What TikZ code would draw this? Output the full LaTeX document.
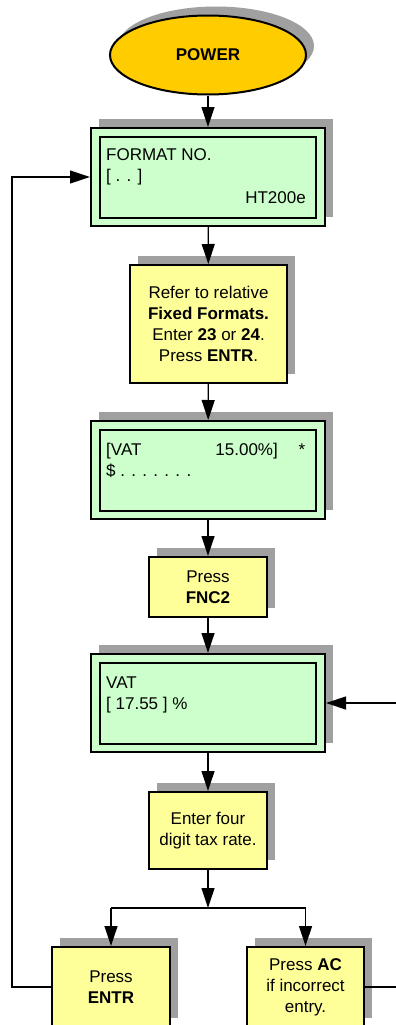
\documentclass[tikz,border=0pt]{standalone}
\usepackage{fontspec}
\setmainfont{Liberation Sans}
\usetikzlibrary{shapes.geometric,shadows,arrows.meta}
\definecolor{shadowc}{RGB}{160,160,160}
\definecolor{lcdgreen}{RGB}{204,255,204}
\definecolor{stepyellow}{RGB}{255,255,153}
\definecolor{gold}{RGB}{255,204,0}
\tikzset{
  shad/.style={drop shadow={shadow xshift=8pt, shadow yshift=9pt, fill=shadowc, opacity=1}},
  txt/.style={font=\fontsize{17}{21}\selectfont, inner sep=0pt},
  lcdbox/.style={draw=black, line width=2pt, fill=lcdgreen, shad, minimum width=234pt, minimum height=98pt, inner sep=0pt},
  lcdinner/.style={draw=black, line width=2pt},
  stepbox/.style={draw=black, line width=2pt, fill=stepyellow, shad, align=center, txt, inner sep=0pt, minimum width=118pt},
  conn/.style={line width=1.2pt},
  arr/.style={conn, -{Triangle[length=20pt,width=13pt]}},
}
\begin{document}
\begin{tikzpicture}[x=1pt,y=-1pt]
\useasboundingbox (0,0) rectangle (396,1025);
\clip (0,0) rectangle (396,1025);
% POWER
\node[ellipse, draw=black, line width=2pt, fill=gold, shad, minimum width=196pt, minimum height=79pt, inner sep=0pt, txt, font=\fontsize{17}{21}\selectfont\bfseries] (power) at (208,55) {POWER};
% LCD 1
\node[lcdbox] (lcd1) at (208,177) {};
\draw[lcdinner] ([xshift=10pt,yshift=-9.5pt]lcd1.north west) rectangle ([xshift=-10pt,yshift=9.5pt]lcd1.south east);
\node[txt, anchor=base west] (l1a) at (106,160) {FORMAT NO.};
\node[txt, anchor=base west] (l1b) at (106,181) {[ . . ]};
\node[txt, anchor=base east] (l1c) at (306,203) {HT200e};
% Step 2
\node[stepbox, minimum width=157pt, minimum height=118pt] (s2) at (208.5,324) {Refer to relative\\\textbf{Fixed Formats.}\\Enter \textbf{23} or \textbf{24}.\\Press \textbf{ENTR}.};
% LCD 2
\node[lcdbox] (lcd2) at (208,470) {};
\draw[lcdinner] ([xshift=10pt,yshift=-9.5pt]lcd2.north west) rectangle ([xshift=-10pt,yshift=9.5pt]lcd2.south east);
\node[txt, anchor=base west] (l2a) at (106,455) {[VAT};
\node[txt, anchor=base east] (l2b) at (278,455) {15.00\%]};
\node[txt, anchor=base] (l2c) at (302,455) {*};
\node[txt, anchor=base west] (l2d) at (106,476) {\$ . . . . . . .};
% Step FNC2
\node[stepbox, minimum height=60pt] (s4) at (208,587) {Press\\\textbf{FNC2}};
% LCD 3
\node[lcdbox] (lcd3) at (208,703) {};
\draw[lcdinner] ([xshift=10pt,yshift=-9.5pt]lcd3.north west) rectangle ([xshift=-10pt,yshift=9.5pt]lcd3.south east);
\node[txt, anchor=base west] (l3a) at (106,688) {VAT};
\node[txt, anchor=base west] (l3b) at (106,709) {[ 17.55 ] \%};
% Step enter four
\node[stepbox, minimum height=77pt] (s6) at (208,830.5) {Enter four\\digit tax rate.};
% Bottom boxes
\node[stepbox, minimum height=80pt] (s7) at (111,987) {Press\\\textbf{ENTR}};
\node[stepbox, minimum width=117pt, minimum height=80pt] (s8) at (305.5,987) {Press \textbf{AC}\\if incorrect\\entry.};
% connectors
\coordinate (j) at (208,908);
\coordinate (jl) at (111,908);
\coordinate (jr) at (305.5,908);
\coordinate (rc) at (402,987);
\draw[arr] (power) -- (lcd1);
\draw[arr] (lcd1) -- (s2);
\draw[arr] (s2) -- (lcd2);
\draw[arr] (lcd2) -- (s4);
\draw[arr] (s4) -- (lcd3);
\draw[arr] (lcd3) -- (s6);
\draw[arr] (s6) -- (j);
\draw[conn] (jl) -- (jr);
\draw[arr] (jl) -- (s7);
\draw[arr] (jr) -- (s8);
\draw[arr] (s7.west) -- ++(-39,0) |- (lcd1.west);
\draw[arr] (s8.east) -- (rc) |- (lcd3.east);
\end{tikzpicture}
\end{document}
